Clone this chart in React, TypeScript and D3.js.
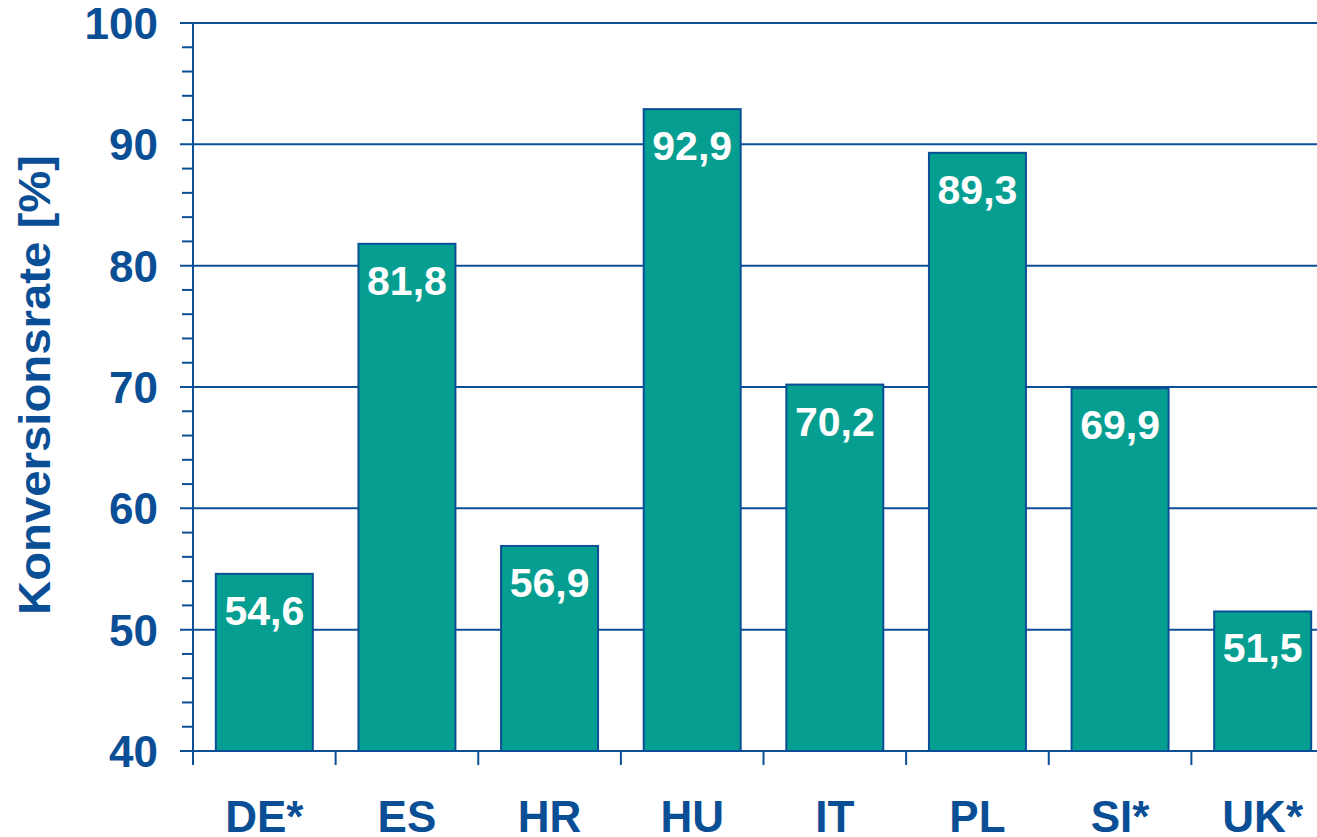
import React from 'react'
import * as d3 from 'd3'

const categories = ['DE*', 'ES', 'HR', 'HU', 'IT', 'PL', 'SI*', 'UK*']
const values = [54.6, 81.8, 56.9, 92.9, 70.2, 89.3, 69.9, 51.5]
const majorTicks = [40, 50, 60, 70, 80, 90, 100]
const yTitle = 'Konversionsrate [%]'

const width = 1317
const height = 837
const blue = '#0a4f95'
const teal = '#069e90'
const font = '"Liberation Sans", Arial, sans-serif'

const App = () => {
  const x = d3.scaleBand().domain(categories).range([193, 1334]).paddingInner(0.32).paddingOuter(0.16)
  const y = d3.scaleLinear().domain([40, 100]).range([751, 23])
  const step = x.step()
  const minorTicks = d3.range(40, 101, 2).filter(t => t % 10 !== 0)
  const fmt = (v: number) => d3.format('.1f')(v).replace('.', ',')

  return (
    <svg width={width} height={height} style={{ position: 'absolute', left: 0, top: 0 }} fontFamily={font}>
      <rect width={width} height={height} fill="#fff" />
      {/* gridlines + major ticks */}
      {majorTicks.map(t => (
        <line key={'g' + t} x1={180} x2={1340} y1={y(t)} y2={y(t)} stroke={blue} strokeWidth={2} />
      ))}
      {minorTicks.map(t => (
        <line key={'m' + t} x1={182} x2={193} y1={y(t)} y2={y(t)} stroke={blue} strokeWidth={2} />
      ))}
      {/* bars */}
      {values.map((v, i) => (
        <rect
          key={categories[i]}
          x={x(categories[i])}
          y={y(v)}
          width={x.bandwidth()}
          height={y(40) - y(v)}
          fill={teal}
          stroke={blue}
          strokeWidth={2}
        />
      ))}
      {/* y axis line */}
      <line x1={193} x2={193} y1={y(100)} y2={y(40)} stroke={blue} strokeWidth={2} />
      {/* x axis ticks at band edges */}
      {d3.range(categories.length + 1).map(i => (
        <line key={'xt' + i} x1={193 + i * step} x2={193 + i * step} y1={y(40)} y2={765} stroke={blue} strokeWidth={2} />
      ))}
      {/* y tick labels */}
      {majorTicks.map(t => (
        <text key={'yl' + t} x={158} y={y(t) + 16} textAnchor="end" fontSize={44} fontWeight="bold" fill={blue}>
          {t}
        </text>
      ))}
      {/* category labels */}
      {categories.map(c => (
        <text key={'xl' + c} x={(x(c) ?? 0) + x.bandwidth() / 2} y={832} textAnchor="middle" fontSize={44} fontWeight="bold" fill={blue}>
          {c}
        </text>
      ))}
      {/* value labels */}
      {values.map((v, i) => (
        <text
          key={'v' + i}
          x={(x(categories[i]) ?? 0) + x.bandwidth() / 2}
          y={y(v) + 51}
          textAnchor="middle"
          fontSize={41}
          fontWeight="bold"
          fill="#fff"
        >
          {fmt(v)}
        </text>
      ))}
      {/* y title */}
      <text
        transform={`translate(50,385) rotate(-90)`}
        textAnchor="middle"
        fontSize={44}
        fontWeight="bold"
        fill={blue}
        textLength={460}
        lengthAdjust="spacingAndGlyphs"
      >
        {yTitle}
      </text>
    </svg>
  )
}

export default App
